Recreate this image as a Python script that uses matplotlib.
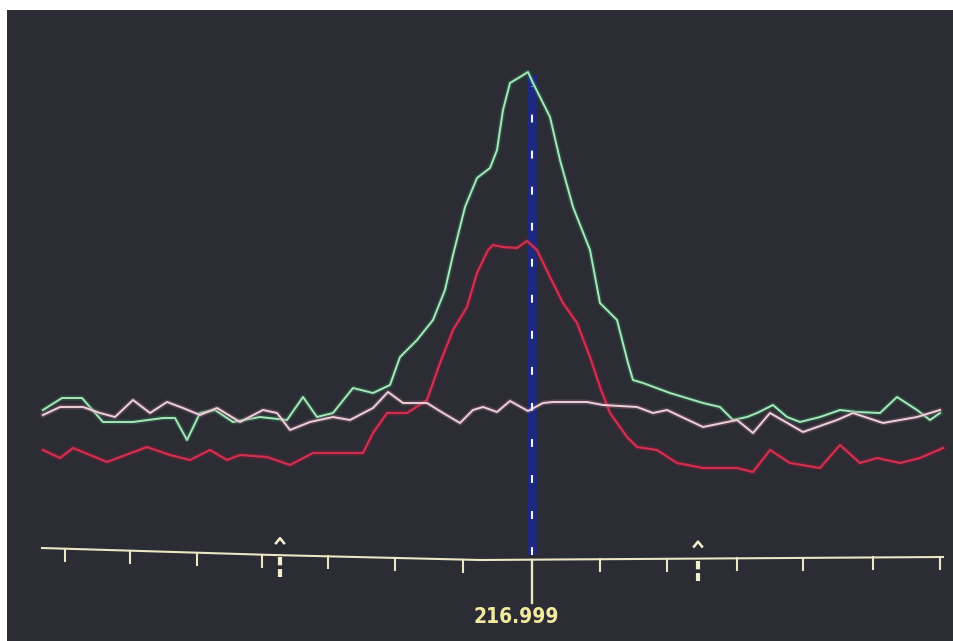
import numpy as np
import matplotlib
matplotlib.use("Agg")
import matplotlib.pyplot as plt

# channel positions / intensities
green_x = [43, 62, 82, 103, 133, 163, 175, 187, 200, 215, 233, 260, 287, 303, 317,
           333, 353, 373, 390, 400, 417, 433, 445, 453, 465, 477, 490, 497, 503, 510,
           520, 528, 533, 550, 560, 573, 590, 600, 617, 628, 633, 643, 670, 703, 720,
           733, 747, 757, 773, 787, 800, 820, 840, 857, 880, 897, 917, 930, 940]
green_y = [150, 162, 162, 138, 138, 142, 142, 120, 147, 150, 138, 143, 140, 163, 143,
           147, 172, 167, 175, 203, 220, 240, 270, 305, 353, 382, 392, 410, 450, 477,
           483, 488, 477, 443, 400, 353, 310, 257, 240, 197, 180, 177, 167, 157, 153,
           140, 143, 147, 155, 143, 138, 143, 150, 148, 147, 163, 150, 140, 147]

pink_x = [43, 60, 83, 100, 115, 133, 150, 167, 183, 200, 217, 240, 263, 277, 290,
          310, 333, 350, 373, 388, 403, 427, 443, 460, 473, 483, 497, 510, 528, 543,
          553, 587, 603, 637, 653, 667, 703, 737, 753, 770, 803, 837, 853, 883, 917, 940]
pink_y = [145, 153, 153, 147, 143, 160, 147, 158, 152, 145, 152, 138, 150, 147, 130,
          138, 143, 140, 152, 168, 157, 157, 147, 137, 150, 153, 148, 159, 149, 157,
          158, 158, 155, 153, 147, 150, 133, 140, 127, 147, 128, 140, 147, 137, 143, 150]

red_x = [43, 60, 73, 107, 147, 170, 190, 210, 227, 240, 267, 290, 313, 340, 363,
         373, 387, 407, 427, 440, 453, 467, 477, 488, 493, 503, 517, 527, 537, 550,
         563, 577, 590, 600, 610, 627, 637, 657, 677, 703, 737, 753, 770, 790, 820,
         840, 860, 877, 900, 920, 943]
red_y = [110, 102, 112, 98, 113, 105, 100, 110, 100, 105, 103, 95, 107, 107, 107,
         127, 147, 147, 160, 197, 230, 253, 287, 310, 315, 313, 312, 319, 310, 283,
         257, 237, 203, 173, 147, 123, 113, 110, 97, 92, 92, 88, 110, 97, 92,
         115, 97, 102, 97, 102, 112]

# scale bar (slightly bowed in the photo)
axis_x = [42, 273, 480, 943]
axis_y = [12, 5, 0, 3]
tick_x = [65, 130, 197, 262, 328, 395, 463, 600, 667, 737, 803, 873, 940]
center_x = 532
marker_x = [280, 698]
center_label = "216.999"

BG = "#2c2c34"

fig = plt.figure(figsize=(9.54, 6.41), dpi=100, facecolor="white")
ax = fig.add_axes([7 / 954, 0, 947 / 954, 631 / 641])
ax.set_facecolor(BG)
ax.set_xlim(7, 954)
ax.set_ylim(-81, 550)
for s in ax.spines.values():
    s.set_visible(False)
ax.set_xticks([])
ax.set_yticks([])

# cursor band (dashes are scaled by linewidth)
ax.plot([center_x, center_x], [5, max(green_y) - 3], color="#1d2880", lw=7,
        solid_capstyle="butt", zorder=2)
ax.plot([center_x, center_x], [5, max(green_y) - 14], color="#f2f2f2", lw=1.5,
        dashes=(3.8, 13.5), zorder=5)


def glow_line(x, y, core, halo, lw, z):
    ax.plot(x, y, color=halo, lw=lw * 2.6, alpha=0.35, zorder=z,
            solid_joinstyle="round")
    ax.plot(x, y, color=core, lw=lw, zorder=z + 0.1, solid_joinstyle="round")


glow_line(green_x, green_y, "#a8e6bc", "#2f8f55", 1.4, 3)
glow_line(red_x, red_y, "#d0304f", "#8a1a35", 1.6, 3.2)
glow_line(pink_x, pink_y, "#ecd0da", "#a06c80", 1.4, 3.4)

# scale bar
AX_C = "#ebe6c4"
ax.plot(axis_x, axis_y, color=AX_C, lw=1.5, zorder=4)
for tx in tick_x:
    y0 = np.interp(tx, axis_x, axis_y)
    ax.plot([tx, tx], [y0, y0 - 12], color=AX_C, lw=1.5, zorder=4)
y0 = np.interp(center_x, axis_x, axis_y)
ax.plot([center_x, center_x], [y0, -43], color=AX_C, lw=1.7, zorder=4)

# peak-window markers
for mx in marker_x:
    y0 = np.interp(mx, axis_x, axis_y)
    ax.plot([mx, mx], [y0 - 2, y0 - 22], color="#f4efcf", lw=3.0,
            dashes=(2.0, 0.9), zorder=5)
    ax.plot([mx - 4, mx, mx + 4], [y0 + 12, y0 + 17, y0 + 12],
            color="#f4efcf", lw=1.8, zorder=5)

ax.text(center_x - 16, -57, center_label, color="#f2ea9e", fontsize=15,
        fontweight="bold", fontstretch="condensed", ha="center", va="center",
        zorder=6)

fig.savefig("out.png", dpi=100, facecolor="white")
